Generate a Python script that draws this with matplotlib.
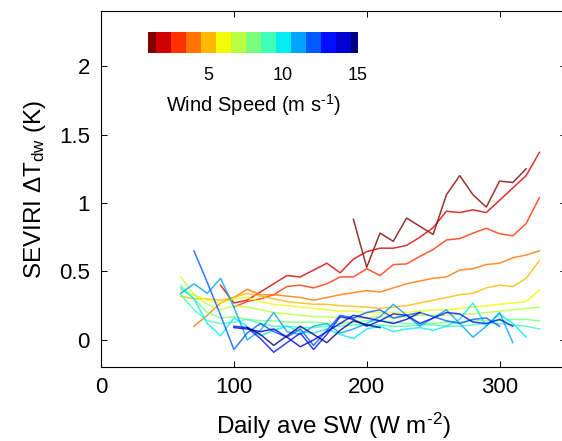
import numpy as np
import matplotlib
matplotlib.use('Agg')
import matplotlib.pyplot as plt

plt.rcParams['font.family'] = ['Liberation Sans', 'DejaVu Sans']
plt.rcParams['mathtext.fontset'] = 'custom'
plt.rcParams['mathtext.rm'] = 'Liberation Sans'
plt.rcParams['mathtext.it'] = 'Liberation Sans:italic'
plt.rcParams['mathtext.bf'] = 'Liberation Sans:bold'

# daily mean shortwave bins (W m-2)
sw_bins = [60, 70, 80, 90, 100, 110, 120, 130, 140, 150, 160, 170, 180, 190,
           200, 210, 220, 230, 240, 250, 260, 270, 280, 290, 300, 310, 320, 330]

# wind speed classes (m s-1) and the first SW bin of each curve
wind_speed = [1, 2, 3, 4, 5, 6, 7, 8, 9, 10, 11, 12, 13, 14, 15]
first_bin = [190, 90, 100, 70, 60, 60, 60, 60, 60, 60, 60, 70, 100, 100, 110]

# mean diurnal warming (K) per SW bin
dT_ws01 = [0.88, 0.53, 0.78, 0.72, 0.89, 0.83, 0.77, 1.06, 1.20, 1.06, 0.97, 1.16, 1.15, 1.25]
dT_ws02 = [0.40, 0.27, 0.29, 0.35, 0.41, 0.47, 0.46, 0.51, 0.56, 0.49, 0.59, 0.645, 0.67,
           0.67, 0.69, 0.75, 0.82, 0.94, 0.93, 0.95, 0.93, 1.02, 1.11, 1.20, 1.37]
dT_ws03 = [0.24, 0.28, 0.30, 0.33, 0.39, 0.40, 0.38, 0.41, 0.46, 0.46, 0.52, 0.47, 0.55,
           0.555, 0.61, 0.66, 0.73, 0.74, 0.78, 0.815, 0.775, 0.76, 0.85, 1.04]
dT_ws04 = [0.10, 0.18, 0.27, 0.31, 0.37, 0.33, 0.33, 0.32, 0.31, 0.29, 0.31, 0.33, 0.345,
           0.36, 0.35, 0.38, 0.41, 0.43, 0.45, 0.46, 0.51, 0.52, 0.55, 0.56, 0.60, 0.62, 0.65]
dT_ws05 = [0.32, 0.30, 0.30, 0.29, 0.31, 0.34, 0.32, 0.30, 0.28, 0.27, 0.26, 0.26, 0.25, 0.245,
           0.24, 0.23, 0.24, 0.25, 0.27, 0.29, 0.31, 0.33, 0.34, 0.38, 0.40, 0.39, 0.45, 0.58]
dT_ws06 = [0.36, 0.33, 0.29, 0.27, 0.30, 0.31, 0.28, 0.26, 0.25, 0.24, 0.23, 0.22, 0.21, 0.21,
           0.20, 0.20, 0.20, 0.20, 0.21, 0.22, 0.22, 0.23, 0.24, 0.25, 0.26, 0.27, 0.28, 0.365]
dT_ws07 = [0.46, 0.33, 0.26, 0.22, 0.25, 0.24, 0.22, 0.20, 0.19, 0.18, 0.17, 0.17, 0.16, 0.16,
           0.16, 0.17, 0.16, 0.17, 0.18, 0.18, 0.18, 0.19, 0.19, 0.20, 0.21, 0.22, 0.23, 0.24]
dT_ws08 = [0.40, 0.30, 0.20, 0.16, 0.17, 0.15, 0.14, 0.14, 0.13, 0.13, 0.13, 0.12, 0.12, 0.13,
           0.14, 0.14, 0.13, 0.12, 0.12, 0.12, 0.13, 0.13, 0.14, 0.14, 0.14, 0.15, 0.15, 0.14]
dT_ws09 = [0.33, 0.22, 0.14, 0.12, 0.13, 0.15, 0.12, 0.10, 0.10, 0.09, 0.09, 0.10, 0.10, 0.11,
           0.11, 0.11, 0.10, 0.10, 0.11, 0.11, 0.10, 0.10, 0.11, 0.12, 0.12, 0.11, 0.10, 0.08]
dT_ws10 = [0.38, 0.30, 0.12, 0.03, 0.16, 0.10, 0.03, 0.07, 0.10, 0.06, 0.05, 0.08, 0.04, 0.01,
           0.08, 0.10, 0.06, 0.08, 0.09, 0.07, 0.10, 0.15, 0.27, 0.10, 0.19, 0.12, 0.02]
dT_ws11 = [0.34, 0.41, 0.34, 0.45, 0.24, 0.00, 0.07, 0.20, 0.06, 0.04, 0.10, 0.12, 0.05, 0.08,
           0.12, 0.17, 0.26, 0.18, 0.10, 0.16, 0.22, 0.12, 0.02, 0.10, 0.20, -0.02]
dT_ws12 = [0.65, 0.42, 0.18, -0.07, 0.05, 0.12, 0.06, 0.02, 0.08, -0.04, 0.07, 0.18, 0.16,
           0.20, 0.22, 0.16, 0.18, 0.20, 0.17, 0.14, 0.12, 0.15, 0.16, 0.10]
dT_ws13 = [0.10, 0.09, 0.01, -0.09, -0.02, 0.05, -0.07, 0.04, 0.17, 0.15, 0.10, 0.14, 0.19,
           0.18, 0.12, 0.16, 0.20, 0.19, 0.13, 0.12, 0.15, 0.10]
dT_ws14 = [0.09, 0.08, 0.06, 0.08, 0.02, -0.05, 0.00, 0.06, 0.12, 0.18, 0.16, 0.14, 0.12, 0.15, 0.20]
dT_ws15 = [0.09, 0.04, -0.04, 0.03, 0.10, 0.04, -0.02, 0.07, 0.14, 0.11, 0.09]

curves = [dT_ws01, dT_ws02, dT_ws03, dT_ws04, dT_ws05, dT_ws06, dT_ws07, dT_ws08,
          dT_ws09, dT_ws10, dT_ws11, dT_ws12, dT_ws13, dT_ws14, dT_ws15]

colours = plt.cm.jet_r(np.linspace(0, 1, len(wind_speed)))

fig = plt.figure(figsize=(5.62, 4.41), dpi=100)
ax = fig.add_axes([101 / 562, 73.7 / 441, 465 / 562, 356 / 441])

for i, vals in enumerate(curves):
    i0 = sw_bins.index(first_bin[i])
    xs = sw_bins[i0:i0 + len(vals)]
    ax.plot(xs, vals, color=colours[i], lw=1.1, alpha=0.8)

ax.set_xlim(0, 350)
ax.set_ylim(-0.2, 2.4)
ax.set_xticks([0, 100, 200, 300])
ax.set_yticks([0, 0.5, 1, 1.5, 2])
ax.set_yticklabels(['0', '0.5', '1', '1.5', '2'])
ax.tick_params(direction='in', top=True, right=True, length=4, width=0.7,
               labelsize=16)
ax.tick_params(axis='x', pad=7)
ax.tick_params(axis='y', pad=8)
for s in ax.spines.values():
    s.set_linewidth(0.8)
ax.set_xlabel(r'Daily ave SW (W m$^{\text{-}2}$)', fontsize=17.5, labelpad=9)
ax.set_ylabel('SEVIRI \u0394T$_{\\rm dw}$ (K)', fontsize=17.5, labelpad=8)

# discrete wind-speed colour bar inside the axes
cax = fig.add_axes([148 / 562, (441 - 53) / 441, 210 / 562, 21 / 441])
edges = [1] + [w + 0.5 for w in wind_speed[:-1]] + [15]
cax.pcolormesh(edges, [0, 1], np.array([wind_speed]), cmap=plt.cm.colors.ListedColormap(colours),
               vmin=0.5, vmax=15.5)
cax.set_xlim(1, 15)
cax.set_yticks([])
cax.set_xticks([5, 10, 15])
cax.tick_params(axis='x', length=0, labelsize=13, pad=10)
for s in cax.spines.values():
    s.set_visible(False)
cax.set_xlabel(r'Wind Speed (m s$^{\text{-}1}$)', fontsize=14.5, labelpad=6)

fig.savefig('out.png', dpi=100)
